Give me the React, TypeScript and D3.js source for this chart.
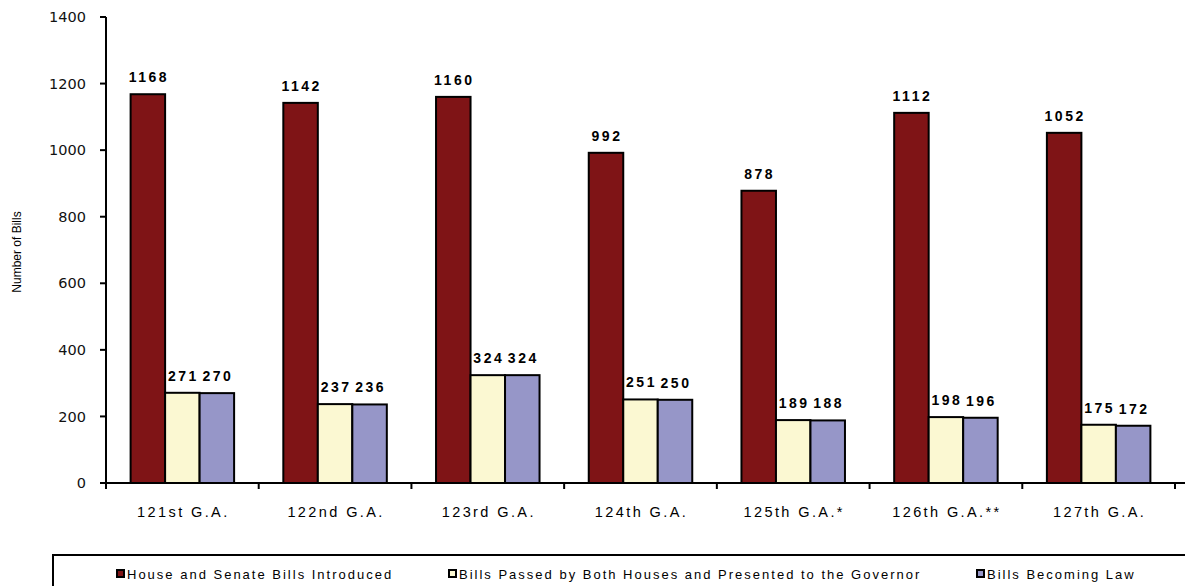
import React from "react";
import * as d3 from "d3";

const categories = ["121st G.A.", "122nd G.A.", "123rd G.A.", "124th G.A.", "125th G.A.*", "126th G.A.**", "127th G.A."];
const introduced = [1168, 1142, 1160, 992, 878, 1112, 1052];
const passed = [271, 237, 324, 251, 189, 198, 175];
const becameLaw = [270, 236, 324, 250, 188, 196, 172];
const seriesNames = [
  "House and Senate Bills Introduced",
  "Bills Passed by Both Houses and Presented to the Governor",
  "Bills Becoming Law",
];
const seriesColors = ["#7f1416", "#fbf8d2", "#9696c8"];
const yTicks = [0, 200, 400, 600, 800, 1000, 1200, 1400];

export default function App() {
  const W = 1185, H = 586;
  const x0 = 106, x1 = 1175, yTop = 17, yBot = 483;
  const x = d3.scaleBand<string>().domain(categories).range([x0, x1]).paddingInner(0).paddingOuter(0);
  const y = d3.scaleLinear().domain([0, 1400]).range([yBot, yTop]);
  const barW = 34.5;
  const series = [introduced, passed, becameLaw];
  const groupW = barW * 3;
  const legendX = [116, 448, 976];
  const font = "Liberation Sans, Arial, sans-serif";

  return (
    <svg width={W} height={H} style={{ position: "absolute", left: 0, top: 0, background: "#fff" }}>
      {/* y axis */}
      <line x1={x0} x2={x0} y1={yTop} y2={yBot + 4} stroke="#000" strokeWidth={2} />
      {yTicks.map((t) => (
        <g key={t}>
          <line x1={x0 - 6} x2={x0} y1={y(t)} y2={y(t)} stroke="#000" strokeWidth={2} />
          <text x={x0 - 20} y={y(t)} dy="0.35em" textAnchor="end" fontFamily="DejaVu Sans, sans-serif" fontSize={14.5} fill="#111">
            {t}
          </text>
        </g>
      ))}
      <text
        transform={`translate(21,${(yTop + yBot) / 2 + 2}) rotate(-90)`}
        textAnchor="middle"
        fontFamily={font}
        fontSize={12}
        fill="#000"
      >
        Number of Bills
      </text>
      {/* bars */}
      {categories.map((c, i) => {
        const gx = (x(c) as number) + (x.bandwidth() - groupW) / 2;
        return (
          <g key={c}>
            {series.map((s, j) => (
              <rect
                key={j}
                x={gx + j * barW}
                y={y(s[i])}
                width={barW}
                height={yBot - y(s[i])}
                fill={seriesColors[j]}
                stroke="#000"
                strokeWidth={2}
              />
            ))}
            {series.map((s, j) => (
              <text
                key={"l" + j}
                x={gx + j * barW + barW / 2 + 1}
                y={y(s[i]) - 12}
                textAnchor="middle"
                fontFamily={font}
                fontWeight="bold"
                fontSize={14}
                letterSpacing={2.5}
                fill="#000"
              >
                {s[i]}
              </text>
            ))}
          </g>
        );
      })}
      {/* x axis */}
      <line x1={x0} x2={x1 + 10} y1={yBot} y2={yBot} stroke="#000" strokeWidth={2} />
      {categories.map((c, i) => (
        <g key={"t" + c}>
          <line x1={x(c) as number} x2={x(c) as number} y1={yBot} y2={yBot + 6} stroke="#000" strokeWidth={2} />
          <text
            x={(x(c) as number) + x.bandwidth() / 2 + 1}
            y={517}
            textAnchor="middle"
            fontFamily={font}
            fontSize={14.5}
            letterSpacing={2.4}
            fill="#000"
          >
            {c}
          </text>
        </g>
      ))}
      <line x1={x1} x2={x1} y1={yBot} y2={yBot + 6} stroke="#000" strokeWidth={2} />
      {/* legend */}
      <rect x={53} y={555} width={1150} height={60} fill="none" stroke="#000" strokeWidth={2} />
      {seriesNames.map((n, j) => (
        <g key={n}>
          <rect x={legendX[j] + 1} y={570} width={7} height={7} fill={seriesColors[j]} stroke="#000" strokeWidth={2} />
          <text x={legendX[j] + 11} y={579} fontFamily={font} fontSize={13} letterSpacing={2} fill="#000">
            {n}
          </text>
        </g>
      ))}
    </svg>
  );
}
